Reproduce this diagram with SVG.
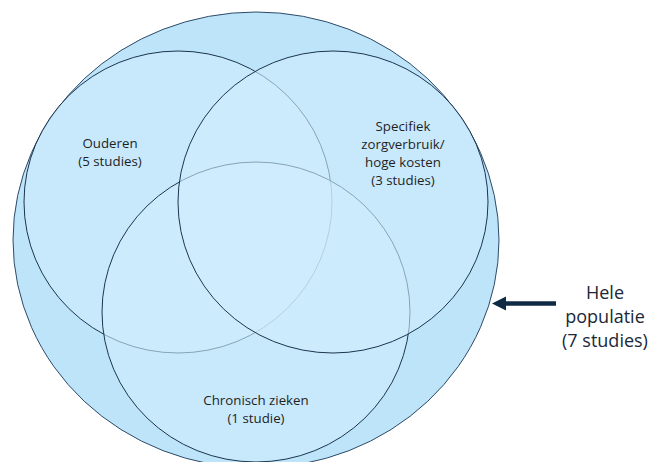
<svg xmlns="http://www.w3.org/2000/svg" width="650" height="462" viewBox="0 0 650 462">
<style>
.outer{fill:#BEE4FA;stroke:#2D4B68;stroke-width:1}
.set{fill:#CFEDFE;fill-opacity:0.6;stroke:#1C3550;stroke-width:1}
.lbl{font-family:"Open Sans","Liberation Sans",Arial,sans-serif;font-size:13.3px;fill:#1f1f1f;text-anchor:middle}
.big{font-family:"Open Sans","Liberation Sans",Arial,sans-serif;font-size:18px;fill:#1a2838;text-anchor:middle}
</style>
<rect width="650" height="462" fill="#ffffff"/>
<g id="hele-populatie">
<ellipse class="outer" cx="256" cy="240" rx="243" ry="228"/>
</g>
<g id="ouderen">
<ellipse class="set" cx="178" cy="202" rx="154" ry="151"/>
<text class="lbl" x="110" y="148">Ouderen</text>
<text class="lbl" x="110" y="166">(5 studies)</text>
</g>
<g id="chronisch">
<ellipse class="set" cx="256" cy="312" rx="154" ry="150"/>
</g>
<g id="specifiek">
<ellipse class="set" cx="333" cy="202" rx="155" ry="151"/>
</g>
<g id="labels">
<text class="lbl" x="403" y="130.5">Specifiek</text>
<text class="lbl" x="403" y="148.5">zorgverbruik/</text>
<text class="lbl" x="403" y="166.5">hoge kosten</text>
<text class="lbl" x="403" y="184.5">(3 studies)</text>
<text class="lbl" x="256" y="405">Chronisch zieken</text>
<text class="lbl" x="256" y="423">(1 studie)</text>
</g>
<g id="hele-label">
<text class="big" x="605" y="299">Hele</text>
<text class="big" x="605" y="323">populatie</text>
<text class="big" x="605" y="347">(7 studies)</text>
</g>
<g id="connectors">
<line x1="556" y1="303.5" x2="503" y2="303.5" stroke="#0F2A45" stroke-width="4.5"/>
<polygon points="492,303.5 506,296.5 506,310.5" fill="#0F2A45"/>
</g>
</svg>
